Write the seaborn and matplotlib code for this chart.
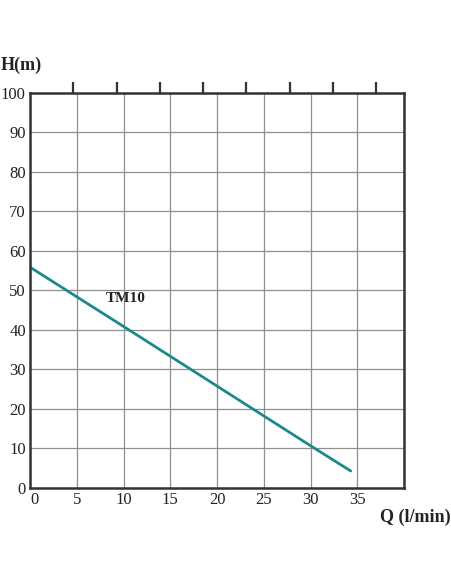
import matplotlib
matplotlib.use("Agg")
import matplotlib.pyplot as plt
import seaborn as sns
import pandas as pd
import numpy as np

# Data
flow_lpm = [0.0, 10.0, 20.0, 30.0, 34.3]
head_m = [55.9, 40.9, 25.8, 10.7, 4.3]
series_name = "TM10"
x_ticks = [0, 5, 10, 15, 20, 25, 30, 35]
y_ticks = [0, 10, 20, 30, 40, 50, 60, 70, 80, 90, 100]
top_ticks = [4.63, 9.26, 13.89, 18.52, 23.15, 27.78, 32.41, 37.04]

sns.set_theme(style="white")
plt.rcParams['font.family'] = ['Liberation Serif', 'DejaVu Serif']

df = pd.DataFrame({"Q": flow_lpm, "H": head_m})

fig = plt.figure(figsize=(4.52, 5.84), dpi=100)
ax = fig.add_axes([0.0664, 0.1644, 0.8275, 0.6764])

sns.lineplot(data=df, x="Q", y="H", ax=ax, color="#1b8a8c", linewidth=2.0)

ax.set_xlim(0, 40)
ax.set_ylim(0, 100)
ax.set_xticks(x_ticks + [40])
ax.set_xticklabels([str(v) for v in x_ticks] + [""])
ax.set_yticks(y_ticks)
ax.set_yticklabels([str(v) for v in y_ticks])
ax.grid(True, color="#8f8f8f", linewidth=0.9)
ax.set_axisbelow(True)
ax.tick_params(axis="both", length=0, labelsize=12, colors="#222222")
ax.tick_params(axis="x", pad=3)
ax.tick_params(axis="y", pad=3)
# nudge the "0" label slightly right like the reference
lbl0 = ax.get_xticklabels()[0]
lbl0.set_horizontalalignment("left")
ax.set_xlabel("")
ax.set_ylabel("")
for s in ax.spines.values():
    s.set_visible(True)
    s.set_color("#333333")
    s.set_linewidth(1.8)

# top secondary ticks
ax2 = ax.twiny()
ax2.set_xlim(0, 40)
ax2.set_xticks(top_ticks)
ax2.set_xticklabels([])
ax2.tick_params(axis="x", direction="out", length=8, width=1.6, color="#333333")
for s in ax2.spines.values():
    s.set_visible(False)

ax.text(10.2, 48, series_name, fontsize=11, fontweight="bold", ha="center", va="center", color="#222222")

fig.text(0.002, 0.888, "H(m)", fontsize=13, fontweight="bold", ha="left", va="center", color="#222222")
fig.text(0.997, 0.114, "Q (l/min)", fontsize=13, fontweight="bold", ha="right", va="center", color="#222222")

fig.savefig("out.png", dpi=100, facecolor="white")
